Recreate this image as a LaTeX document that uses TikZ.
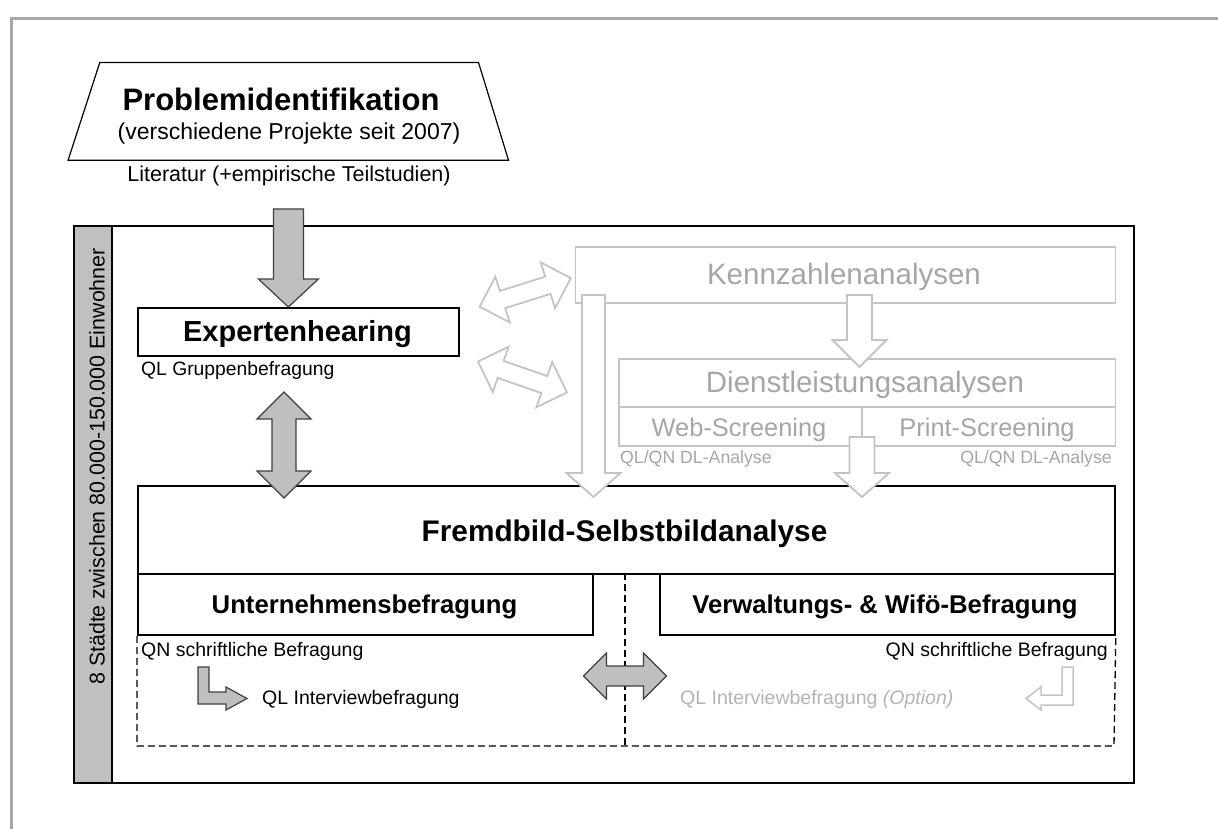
\documentclass[tikz,border=0pt]{standalone}
\usepackage{fontspec}
\setmainfont{Liberation Sans}
\usetikzlibrary{calc}
\definecolor{arrgray}{HTML}{BFBFBF}
\definecolor{arrline}{HTML}{404040}
\definecolor{lightline}{HTML}{C4C4C4}
\definecolor{lighttext}{HTML}{A6A6A6}
\definecolor{optiontext}{HTML}{B4B4B4}
\definecolor{outerframe}{HTML}{A6A6A6}
\definecolor{stripgray}{HTML}{C0C0C0}
\newcommand\fsz[1]{\fontsize{#1}{#1}\selectfont}
\tikzset{
  px/.style={x=1pt,y=-1pt},
  blackbox/.style={draw=black, line width=1.8pt, fill=white, rectangle, inner sep=0pt},
  lightbox/.style={draw=lightline, line width=1.8pt, rectangle, inner sep=0pt},
  txt/.style={inner sep=0pt, anchor=base},
  grayarrow/.style={fill=arrgray, draw=arrline, line width=1.2pt, line join=miter},
  ghostarrow/.style={fill=white, draw=lightline, line width=1.8pt, line join=miter},
  dashline/.style={draw=black, line width=1.3pt, dash pattern=on 7pt off 4pt},
  pics/sarrow/.style args={#1/#2/#3/#4}{code={
    \path[pic actions] (0,0) -- (-#4,#3) -- (-#4,#2) -- (-#1,#2) -- (-#1,-#2)
      -- (-#4,-#2) -- (-#4,-#3) -- cycle;}},
  pics/darrow/.style args={#1/#2/#3/#4}{code={
    \path[pic actions] (#1/2,0) -- (#1/2-#4,#3) -- (#1/2-#4,#2) -- (-#1/2+#4,#2)
      -- (-#1/2+#4,#3) -- (-#1/2,0) -- (-#1/2+#4,-#3) -- (-#1/2+#4,-#2)
      -- (#1/2-#4,-#2) -- (#1/2-#4,-#3) -- cycle;}},
}
\begin{document}
\begin{tikzpicture}[px]
\useasboundingbox[fill=white] (0,0) rectangle (1218,829);
% outer frame (cut at right and bottom)
\draw[outerframe, line width=3pt] (11,829) -- (11,18.5) -- (1218,18.5);

% problem identification
\node[inner sep=0pt, minimum width=440, minimum height=97.3] (prob) at (288.3,111.35) {};
\draw[line width=1.2pt, fill=white] ($(prob.north west)+(31.7,0)$) -- ($(prob.north east)+(-30,0)$)
  -- (prob.south east) -- (prob.south west) -- cycle;
\node[txt, font=\bfseries\fsz{31}] (probT) at (281,110.7) {Problemidentifikation};
\node[txt, font=\fsz{23}] (probS) at (289,140) {(verschiedene Projekte seit 2007)};
\node[txt, font=\fsz{21.5}] (lit) at (289,181.7) {Literatur (+empirische Teilstudien)};

% main frame and side strip
\node[draw=black, line width=2pt, minimum width=1060, minimum height=556, anchor=north west, inner sep=0pt] (main) at (73,225.5) {};
\node[draw=black, fill=stripgray, line width=2pt, minimum width=38, minimum height=556, anchor=north west, inner sep=0pt] (strip) at (73,225.5) {};
\node[font=\fsz{21.4}, rotate=90, inner sep=0pt, anchor=base] (cities) at (104.5,466.5) {8 Städte zwischen 80.000-150.000 Einwohner};

% light (grey) analysis boxes
\node[lightbox, minimum width=540, minimum height=56, anchor=north west] (kenn) at (574.5,246) {};
\node[txt, font=\fsz{29.5}, text=lighttext] (kennT) at (844,284.3) {Kennzahlenanalysen};
\node[lightbox, minimum width=496.5, minimum height=87, anchor=north west] (dienst) at (618,358) {};
\coordinate (dmidL) at (618,407);
\coordinate (dmidR) at (1114.5,407);
\coordinate (dsplitT) at (862,407);
\draw[lightline, line width=1.8pt] (dmidL) -- (dmidR);
\draw[lightline, line width=1.8pt] (dsplitT) -- (dsplitT |- dienst.south);
\node[txt, font=\fsz{29.5}, text=lighttext] (dienstT) at (865,392.7) {Dienstleistungsanalysen};
\node[txt, font=\fsz{25.4}, text=lighttext] (web) at (739,436) {Web-Screening};
\node[txt, font=\fsz{25.4}, text=lighttext] (print) at (987,436) {Print-Screening};
\node[txt, anchor=base west, font=\fsz{17.7}, text=lighttext] (dlL) at (620,463) {QL/QN DL-Analyse};
\node[txt, anchor=base east, font=\fsz{17.7}, text=lighttext] (dlR) at (1112,463) {QL/QN DL-Analyse};

% Expertenhearing
\node[blackbox, minimum width=321, minimum height=48, anchor=north west] (expert) at (137,307) {};
\node[txt, font=\bfseries\fsz{29}] (expertT) at (297.5,341.7) {Expertenhearing};
\node[txt, anchor=base west, font=\fsz{19.3}] (qlg) at (141,375) {QL Gruppenbefragung};

% Fremdbild-Selbstbildanalyse and survey boxes
\node[blackbox, minimum width=977, minimum height=88, anchor=north west] (fremd) at (137,485) {};
\node[txt, font=\bfseries\fsz{29.8}] (fremdT) at (624.5,541) {Fremdbild-Selbstbildanalyse};
\node[blackbox, minimum width=455, minimum height=61, anchor=north west] (unt) at (137,573) {};
\node[txt, font=\bfseries\fsz{25.7}] (untT) at (364.5,613) {Unternehmensbefragung};
\node[blackbox, minimum width=455, minimum height=61, anchor=north west] (verw) at (659,573) {};
\node[txt, font=\bfseries\fsz{25.7}] (verwT) at (885,613) {Verwaltungs- \& Wifö-Befragung};

% dashed survey area
\coordinate (dashBL) at (137,746);
\coordinate (dashBR) at (1114,746);
\coordinate (dashMid) at (625,573);
\draw[dashline] (unt.south west) -- (dashBL) -- (dashBR) -- (verw.south east);
\draw[dashline] (dashMid) -- (dashMid |- dashBL);

\node[txt, anchor=base west, font=\fsz{19.5}] (qnL) at (141,656.7) {QN schriftliche Befragung};
\node[txt, anchor=base east, font=\fsz{19.5}] (qnR) at (1108,656.7) {QN schriftliche Befragung};
\node[txt, anchor=base west, font=\fsz{19.5}] (qlL) at (262,704) {QL Interviewbefragung};
\node[txt, anchor=base west, font=\fsz{19.5}, text=optiontext] (qlR) at (680,704) {QL Interviewbefragung \textit{(Option)}};

% L-shaped arrows
\draw[grayarrow] (198,667) -- (209,667) -- (209,692) -- (226,692) -- (226,687) -- (247,698.5)
  -- (226,710) -- (226,704) -- (198,704) -- cycle;
\draw[ghostarrow, line width=1.5pt] (1073,667) -- (1062,667) -- (1062,695) -- (1041,695) -- (1041,687) -- (1026,698.5)
  -- (1041,710) -- (1041,705) -- (1073,705) -- cycle;

% grey block arrows
\pic[grayarrow, rotate=-90] at ($(expert.north)+(-10,0)$) {sarrow=98/15/30/28};
\pic[grayarrow, rotate=90] at (284,445) {darrow=106/12/27/27};
\pic[grayarrow] at (dashMid |- 0,676) {darrow=83/10/23/23};

% light outline block arrows
\pic[ghostarrow, rotate=-90] at (593.5,497) {sarrow=202/11.5/27/24};
\pic[ghostarrow, rotate=-90] at (859.5,367) {sarrow=72/12.5/27/27};
\pic[ghostarrow, rotate=-90] at (862,497) {sarrow=60/12.5/27/24};
\pic[ghostarrow, rotate=17.5] at (525.2,292.4) {darrow=95.5/9/24/24};
\pic[ghostarrow, rotate=-19.2] at (522.5,377) {darrow=94.2/9/24/24};
\end{tikzpicture}
\end{document}
